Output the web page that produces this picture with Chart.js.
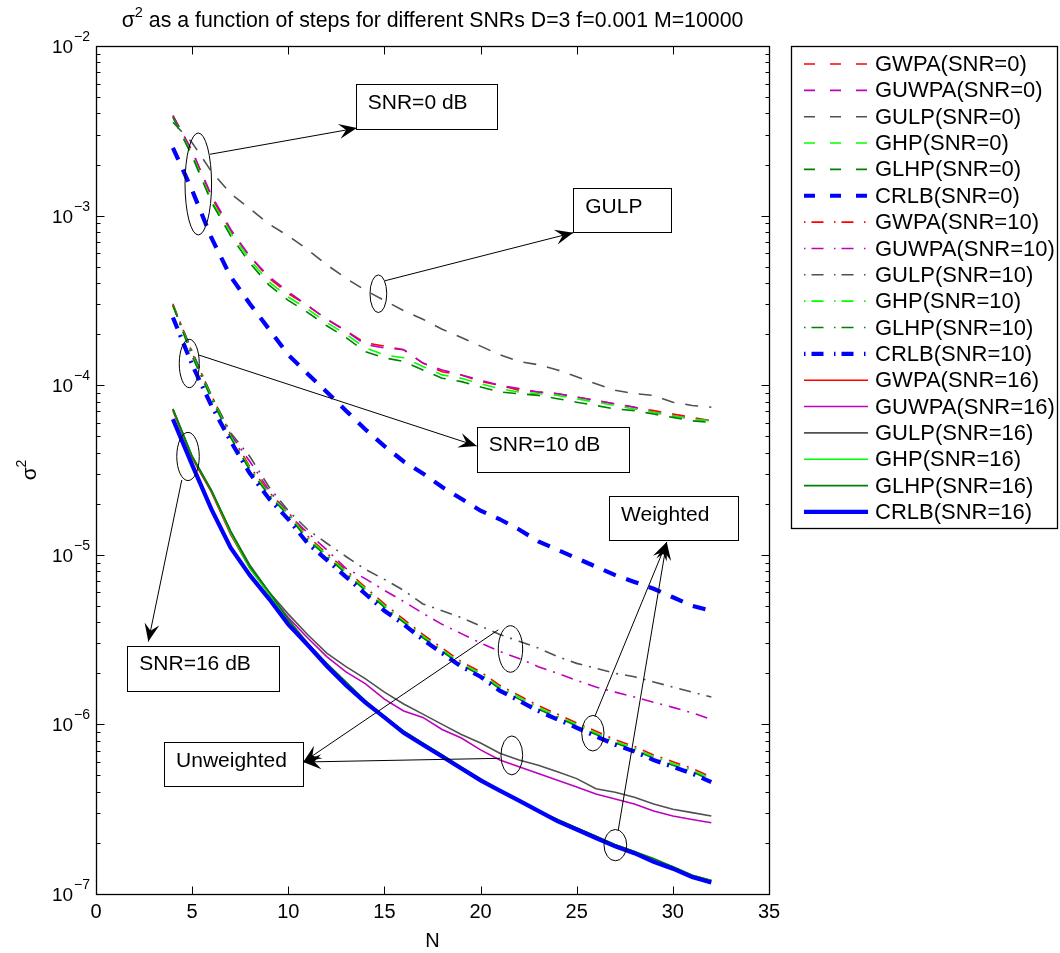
<!DOCTYPE html>
<html>
<head>
<meta charset="utf-8">
<script src="https://cdn.jsdelivr.net/npm/chart.js@4.4.1/dist/chart.umd.min.js"></script>
<style>
html,body{margin:0;padding:0;background:#ffffff;}
#wrap{width:1060px;height:953px;position:relative;}
</style>
</head>
<body>
<div id="wrap"><canvas id="c" width="1060" height="953"></canvas></div>
<script>
// ---------------- DATA ----------------
const steps = [4,5,6,7,8,9,10,11,12,13,14,15,16,17,18,19,20,21,22,23,24,25,26,27,28,29,30,31,32];

// SNR = 0 dB
const GWPA_0  = [3.89e-3,2.40e-3,1.29e-3,8.13e-4,5.75e-4,4.27e-4,3.47e-4,2.95e-4,2.45e-4,2.09e-4,1.78e-4,1.70e-4,1.62e-4,1.35e-4,1.20e-4,1.15e-4,1.05e-4,1.00e-4,9.33e-5,9.12e-5,8.91e-5,8.51e-5,8.13e-5,7.76e-5,7.41e-5,7.08e-5,6.76e-5,6.46e-5,6.17e-5];
const GUWPA_0 = [3.89e-3,2.40e-3,1.32e-3,8.32e-4,5.75e-4,4.37e-4,3.55e-4,2.95e-4,2.45e-4,2.09e-4,1.74e-4,1.66e-4,1.62e-4,1.35e-4,1.23e-4,1.15e-4,1.07e-4,1.00e-4,9.55e-5,9.12e-5,8.91e-5,8.51e-5,8.13e-5,7.76e-5,7.41e-5,6.92e-5,6.61e-5,6.31e-5,6.17e-5];
const GULP_0  = [3.55e-3,2.69e-3,1.82e-3,1.35e-3,1.10e-3,8.91e-4,7.59e-4,6.31e-4,5.13e-4,4.27e-4,3.63e-4,3.16e-4,2.75e-4,2.45e-4,2.14e-4,1.91e-4,1.70e-4,1.51e-4,1.38e-4,1.32e-4,1.23e-4,1.12e-4,1.02e-4,9.33e-5,8.91e-5,8.71e-5,7.94e-5,7.59e-5,7.41e-5];
const GHP_0   = [3.80e-3,2.29e-3,1.23e-3,7.94e-4,5.50e-4,4.07e-4,3.31e-4,2.82e-4,2.34e-4,2.00e-4,1.66e-4,1.51e-4,1.45e-4,1.29e-4,1.15e-4,1.10e-4,1.02e-4,9.55e-5,9.12e-5,8.91e-5,8.71e-5,8.32e-5,7.94e-5,7.59e-5,7.24e-5,6.92e-5,6.61e-5,6.31e-5,6.17e-5];
const GLHP_0  = [3.80e-3,2.24e-3,1.20e-3,7.59e-4,5.25e-4,3.89e-4,3.16e-4,2.69e-4,2.24e-4,1.91e-4,1.58e-4,1.45e-4,1.38e-4,1.23e-4,1.10e-4,1.05e-4,9.77e-5,9.12e-5,8.91e-5,8.71e-5,8.32e-5,7.94e-5,7.59e-5,7.24e-5,7.08e-5,6.76e-5,6.46e-5,6.17e-5,6.03e-5];
const CRLB_0  = [2.51e-3,1.41e-3,7.41e-4,4.37e-4,3.02e-4,2.14e-4,1.51e-4,1.17e-4,9.12e-5,7.08e-5,5.50e-5,4.37e-5,3.55e-5,3.02e-5,2.51e-5,2.14e-5,1.82e-5,1.62e-5,1.41e-5,1.20e-5,1.07e-5,9.55e-6,8.51e-6,7.59e-6,6.92e-6,6.31e-6,5.62e-6,5.01e-6,4.68e-6];

// SNR = 10 dB
const GWPA_10  = [3.02e-4,1.55e-4,8.71e-5,5.13e-5,3.31e-5,2.34e-5,1.78e-5,1.29e-5,1.02e-5,8.13e-6,6.46e-6,5.13e-6,4.17e-6,3.39e-6,2.82e-6,2.34e-6,2.04e-6,1.70e-6,1.48e-6,1.29e-6,1.15e-6,1.02e-6,9.12e-7,8.13e-7,7.41e-7,6.61e-7,6.03e-7,5.50e-7,4.90e-7];
const GUWPA_10 = [2.95e-4,1.58e-4,8.51e-5,5.13e-5,3.55e-5,2.40e-5,1.74e-5,1.35e-5,1.07e-5,8.32e-6,7.24e-6,6.17e-6,5.31e-6,4.52e-6,3.89e-6,3.43e-6,3.02e-6,2.69e-6,2.45e-6,2.19e-6,2.00e-6,1.82e-6,1.66e-6,1.55e-6,1.45e-6,1.35e-6,1.26e-6,1.17e-6,1.07e-6];
const GULP_10  = [2.95e-4,1.58e-4,8.71e-5,5.25e-5,3.80e-5,2.51e-5,1.82e-5,1.41e-5,1.17e-5,9.77e-6,8.22e-6,7.16e-6,6.17e-6,5.13e-6,4.68e-6,4.27e-6,3.80e-6,3.39e-6,3.09e-6,2.82e-6,2.51e-6,2.29e-6,2.14e-6,2.00e-6,1.91e-6,1.78e-6,1.66e-6,1.55e-6,1.45e-6];
const GHP_10   = [2.95e-4,1.51e-4,8.51e-5,5.01e-5,3.24e-5,2.29e-5,1.74e-5,1.26e-5,1.00e-5,7.94e-6,6.31e-6,5.01e-6,4.07e-6,3.31e-6,2.75e-6,2.29e-6,2.00e-6,1.66e-6,1.45e-6,1.26e-6,1.12e-6,1.00e-6,8.91e-7,7.94e-7,7.24e-7,6.46e-7,5.89e-7,5.37e-7,4.79e-7];
const GLHP_10  = [2.95e-4,1.48e-4,8.32e-5,4.90e-5,3.16e-5,2.24e-5,1.70e-5,1.23e-5,9.77e-6,7.76e-6,6.17e-6,4.90e-6,4.00e-6,3.24e-6,2.69e-6,2.24e-6,1.95e-6,1.62e-6,1.41e-6,1.23e-6,1.10e-6,9.77e-7,8.71e-7,7.76e-7,7.08e-7,6.31e-7,5.75e-7,5.25e-7,4.68e-7];
const CRLB_10  = [2.51e-4,1.32e-4,7.59e-5,4.68e-5,3.02e-5,2.14e-5,1.62e-5,1.17e-5,9.33e-6,7.41e-6,5.89e-6,4.68e-6,3.89e-6,3.16e-6,2.63e-6,2.19e-6,1.91e-6,1.58e-6,1.38e-6,1.20e-6,1.07e-6,9.55e-7,8.51e-7,7.59e-7,6.92e-7,6.17e-7,5.62e-7,5.13e-7,4.57e-7];

// SNR = 16 dB
const GWPA_16  = [7.08e-5,3.72e-5,2.34e-5,1.32e-5,8.32e-6,5.89e-6,4.07e-6,2.95e-6,2.26e-6,1.74e-6,1.38e-6,1.10e-6,9.12e-7,7.76e-7,6.61e-7,5.50e-7,4.68e-7,4.07e-7,3.55e-7,3.09e-7,2.75e-7,2.45e-7,2.19e-7,1.95e-7,1.78e-7,1.58e-7,1.45e-7,1.29e-7,1.20e-7];
const GUWPA_16 = [7.24e-5,3.80e-5,2.40e-5,1.35e-5,8.51e-6,5.89e-6,4.27e-6,3.24e-6,2.51e-6,2.04e-6,1.74e-6,1.41e-6,1.20e-6,1.10e-6,9.33e-7,8.32e-7,7.08e-7,6.17e-7,5.62e-7,5.13e-7,4.68e-7,4.27e-7,3.89e-7,3.63e-7,3.39e-7,3.09e-7,2.88e-7,2.75e-7,2.63e-7];
const GULP_16  = [7.24e-5,3.80e-5,2.40e-5,1.38e-5,8.71e-6,6.03e-6,4.47e-6,3.39e-6,2.63e-6,2.19e-6,1.86e-6,1.55e-6,1.32e-6,1.15e-6,1.00e-6,8.71e-7,7.76e-7,6.76e-7,6.17e-7,5.75e-7,5.25e-7,4.79e-7,4.17e-7,3.98e-7,3.72e-7,3.39e-7,3.16e-7,3.02e-7,2.88e-7];
const GHP_16   = [7.24e-5,3.80e-5,2.40e-5,1.35e-5,8.32e-6,5.89e-6,4.07e-6,2.95e-6,2.26e-6,1.74e-6,1.38e-6,1.10e-6,9.12e-7,7.76e-7,6.61e-7,5.50e-7,4.68e-7,4.07e-7,3.55e-7,3.09e-7,2.75e-7,2.45e-7,2.19e-7,1.95e-7,1.78e-7,1.58e-7,1.45e-7,1.29e-7,1.20e-7];
const GLHP_16  = [7.24e-5,3.80e-5,2.40e-5,1.38e-5,8.51e-6,6.03e-6,4.17e-6,3.02e-6,2.29e-6,1.78e-6,1.38e-6,1.12e-6,9.12e-7,7.76e-7,6.61e-7,5.62e-7,4.79e-7,4.07e-7,3.55e-7,3.09e-7,2.75e-7,2.45e-7,2.19e-7,1.95e-7,1.78e-7,1.62e-7,1.45e-7,1.29e-7,1.20e-7];
const CRLB_16  = [6.31e-5,3.39e-5,1.86e-5,1.10e-5,7.59e-6,5.50e-6,3.89e-6,2.95e-6,2.21e-6,1.70e-6,1.35e-6,1.10e-6,8.91e-7,7.59e-7,6.46e-7,5.50e-7,4.68e-7,4.07e-7,3.55e-7,3.09e-7,2.69e-7,2.40e-7,2.14e-7,1.91e-7,1.74e-7,1.55e-7,1.41e-7,1.26e-7,1.17e-7];

// axis ticks
const xTicks = [0,5,10,15,20,25,30,35];
const yDecades = [-7,-6,-5,-4,-3,-2];

// annotations (in data coordinates)
const annEllipses = [
  {n1:4.63, n2:6.01,  v1:3.07e-3, v2:7.69e-4},
  {n1:14.25,n2:15.12, v1:4.47e-4, v2:2.68e-4},
  {n1:4.33, n2:5.37,  v1:1.865e-4,v2:9.67e-5},
  {n1:4.20, n2:5.37,  v1:5.27e-5, v2:2.74e-5},
  {n1:20.92,n2:22.19, v1:3.82e-6, v2:2.03e-6},
  {n1:21.06,n2:22.19, v1:8.55e-7, v2:5.04e-7},
  {n1:25.26,n2:26.42, v1:1.13e-6, v2:6.97e-7},
  {n1:26.42,n2:27.60, v1:2.40e-7, v2:1.57e-7}
];
const annBoxes = [
  {text:'SNR=0 dB',   n1:13.51,n2:20.85,v1:5.94e-3,v2:3.24e-3},
  {text:'GULP',       n1:24.82,n2:29.94,v1:1.45e-3,v2:7.93e-4},
  {text:'SNR=10 dB',  n1:19.80,n2:27.68,v1:5.69e-5,v2:3.09e-5},
  {text:'SNR=16 dB',  n1:1.63, n2:9.52, v1:2.90e-6,v2:1.57e-6},
  {text:'Unweighted', n1:3.54, n2:10.78,v1:7.83e-7,v2:4.29e-7},
  {text:'Weighted',   n1:26.68,n2:33.40,v1:2.22e-5,v2:1.22e-5}
];
const annArrows = [
  {n1:5.93, v1:2.30e-3, n2:13.57,v2:3.28e-3},
  {n1:15.03,v1:4.13e-4, n2:24.82,v2:7.93e-4},
  {n1:5.32, v1:1.51e-4, n2:19.80,v2:4.38e-5},
  {n1:4.46, v1:2.76e-5, n2:2.72, v2:3.08e-6},
  {n1:20.92,v1:3.61e-6, n2:10.78,v2:6.00e-7},
  {n1:21.01,v1:6.31e-7, n2:10.78,v2:6.00e-7},
  {n1:25.95,v1:1.12e-6, n2:29.68,v2:1.19e-5},
  {n1:27.16,v1:2.38e-7, n2:29.68,v2:1.19e-5}
];

// ---------------- STYLE ----------------
const FONT = "'Liberation Sans', Arial, Helvetica, sans-serif";
const C_RED = '#FF0000', C_MAG = '#BF00BF', C_GRAY = '#505050', C_LGREEN = '#00FF00', C_DGREEN = '#008000', C_BLUE = '#0000FF';
const DASH = [13,11], DASHDOT = [12,7,2,7];
const L_DASH = [11,15], L_DASHDOT = [1.5,6,12,10.5];

function mk(label, values, color, width, dash, legendDash){
  return {
    label: label,
    data: steps.map((n,i)=>({x:n, y:values[i]})),
    borderColor: color, backgroundColor: color,
    borderWidth: width, borderDash: dash, legendDash: legendDash,
    pointRadius: 0, pointHoverRadius: 0, tension: 0, fill: false
  };
}
const TW = 1.6, BW = 4.2;
const datasets = [
  mk('GWPA(SNR=0)',   GWPA_0,   C_RED,   TW, DASH, L_DASH),
  mk('GUWPA(SNR=0)',  GUWPA_0,  C_MAG,   TW, DASH, L_DASH),
  mk('GULP(SNR=0)',   GULP_0,   C_GRAY,  TW, DASH, L_DASH),
  mk('GHP(SNR=0)',    GHP_0,    C_LGREEN,TW, DASH, L_DASH),
  mk('GLHP(SNR=0)',   GLHP_0,   C_DGREEN,TW, DASH, L_DASH),
  mk('CRLB(SNR=0)',   CRLB_0,   C_BLUE,  BW, DASH, L_DASH),
  mk('GWPA(SNR=10)',  GWPA_10,  C_RED,   TW, DASHDOT, L_DASHDOT),
  mk('GUWPA(SNR=10)', GUWPA_10, C_MAG,   TW, DASHDOT, L_DASHDOT),
  mk('GULP(SNR=10)',  GULP_10,  C_GRAY,  TW, DASHDOT, L_DASHDOT),
  mk('GHP(SNR=10)',   GHP_10,   C_LGREEN,TW, DASHDOT, L_DASHDOT),
  mk('GLHP(SNR=10)',  GLHP_10,  C_DGREEN,TW, DASHDOT, L_DASHDOT),
  mk('CRLB(SNR=10)',  CRLB_10,  C_BLUE,  BW, DASHDOT, L_DASHDOT),
  mk('GWPA(SNR=16)',  GWPA_16,  C_RED,   TW, [], []),
  mk('GUWPA(SNR=16)', GUWPA_16, C_MAG,   TW, [], []),
  mk('GULP(SNR=16)',  GULP_16,  C_GRAY,  TW, [], []),
  mk('GHP(SNR=16)',   GHP_16,   C_LGREEN,TW, [], []),
  mk('GLHP(SNR=16)',  GLHP_16,  C_DGREEN,TW, [], []),
  mk('CRLB(SNR=16)',  CRLB_16,  C_BLUE,  BW, [], [])
];
// later series drawn on top (as in the original)
datasets.forEach((d,i)=>{ d.order = -i; });

const SUP = {'-':'\u2212','0':'0','1':'1','2':'2','3':'3','4':'4','5':'5','6':'6','7':'7','8':'8','9':'9'};

function drawArrowHead(ctx, x1, y1, x2, y2){
  const a = Math.atan2(y2-y1, x2-x1);
  const len = 18, hw = 7.5, notch = 11;
  const ca = Math.cos(a), sa = Math.sin(a);
  const bx = x2 - len*ca, by = y2 - len*sa;
  const nx = x2 - notch*ca, ny = y2 - notch*sa;
  ctx.beginPath();
  ctx.moveTo(x2, y2);
  ctx.lineTo(bx - hw*sa, by + hw*ca);
  ctx.lineTo(nx, ny);
  ctx.lineTo(bx + hw*sa, by - hw*ca);
  ctx.closePath();
  ctx.fill();
}

const matlabPlugin = {
  id: 'matlabLook',
  afterDatasetsDraw(chart){
    const ctx = chart.ctx, xs = chart.scales.x, ys = chart.scales.y;
    ctx.save();
    ctx.strokeStyle = '#000'; ctx.fillStyle = '#000'; ctx.lineWidth = 1; ctx.setLineDash([]);
    annEllipses.forEach(e=>{
      const x1 = xs.getPixelForValue(e.n1), x2 = xs.getPixelForValue(e.n2);
      const y1 = ys.getPixelForValue(e.v1), y2 = ys.getPixelForValue(e.v2);
      ctx.beginPath();
      ctx.ellipse((x1+x2)/2, (y1+y2)/2, Math.abs(x2-x1)/2, Math.abs(y2-y1)/2, 0, 0, Math.PI*2);
      ctx.stroke();
    });
    annArrows.forEach(a=>{
      const x1 = xs.getPixelForValue(a.n1), x2 = xs.getPixelForValue(a.n2);
      const y1 = ys.getPixelForValue(a.v1), y2 = ys.getPixelForValue(a.v2);
      ctx.beginPath(); ctx.moveTo(x1,y1); ctx.lineTo(x2,y2); ctx.stroke();
      drawArrowHead(ctx, x1, y1, x2, y2);
    });
    ctx.font = '21px ' + FONT; ctx.textBaseline = 'alphabetic'; ctx.textAlign = 'left';
    annBoxes.forEach(b=>{
      const x1 = xs.getPixelForValue(b.n1), x2 = xs.getPixelForValue(b.n2);
      const y1 = ys.getPixelForValue(b.v1), y2 = ys.getPixelForValue(b.v2);
      ctx.strokeRect(Math.round(x1)+0.5, Math.round(y1)+0.5, Math.round(x2-x1), Math.round(y2-y1));
      ctx.fillText(b.text, x1 + 12, y1 + 24.5);
    });
    ctx.restore();
  },
  afterDraw(chart){
    const ctx = chart.ctx, xs = chart.scales.x, ys = chart.scales.y, ca = chart.chartArea;
    ctx.save();
    ctx.setLineDash([]);
    ctx.strokeStyle = '#000'; ctx.lineWidth = 1;
    const L = Math.round(ca.left)+0.5, R = Math.round(ca.right)+0.5, T = Math.round(ca.top)+0.5, B = Math.round(ca.bottom)+0.5;
    ctx.beginPath();
    xTicks.forEach(v=>{
      const x = Math.round(xs.getPixelForValue(v))+0.5;
      ctx.moveTo(x, B); ctx.lineTo(x, B-8);
      ctx.moveTo(x, T); ctx.lineTo(x, T+8);
    });
    yDecades.forEach(d=>{
      const y = Math.round(ys.getPixelForValue(Math.pow(10,d)))+0.5;
      ctx.moveTo(L, y); ctx.lineTo(L+8, y);
      ctx.moveTo(R, y); ctx.lineTo(R-8, y);
      if (d < -2) {
        for (let m=2; m<=9; m++){
          const ym = Math.round(ys.getPixelForValue(m*Math.pow(10,d)))+0.5;
          ctx.moveTo(L, ym); ctx.lineTo(L+4, ym);
          ctx.moveTo(R, ym); ctx.lineTo(R-4, ym);
        }
      }
    });
    ctx.stroke();
    ctx.lineWidth = 1.3;
    ctx.strokeRect(L, T, R-L, B-T);

    ctx.fillStyle = '#000';
    yDecades.forEach(d=>{
      const y = ys.getPixelForValue(Math.pow(10,d));
      const ex = String(d).split('').map(c=>SUP[c]).join('');
      ctx.font = '14px ' + FONT; ctx.textAlign = 'right'; ctx.textBaseline = 'alphabetic';
      const ew = ctx.measureText(ex).width;
      ctx.fillText(ex, 90, y - 5);
      ctx.font = '19px ' + FONT;
      ctx.fillText('10', 90 - ew - 1, y + 7);
    });
    ctx.font = '20px ' + FONT; ctx.textAlign = 'center'; ctx.textBaseline = 'alphabetic';
    ctx.fillText('N', (ca.left+ca.right)/2, 947);
    ctx.save();
    ctx.translate(36, (ca.top+ca.bottom)/2);
    ctx.rotate(-Math.PI/2);
    ctx.textAlign = 'left';
    ctx.font = '21px ' + FONT;
    const sw = ctx.measureText('\u03C3').width;
    ctx.font = '14px ' + FONT;
    const tw = sw + ctx.measureText('2').width;
    ctx.font = '21px ' + FONT;
    ctx.fillText('\u03C3', -tw/2, 0);
    ctx.font = '14px ' + FONT;
    ctx.fillText('2', -tw/2 + sw, -10);
    ctx.restore();
    // title with superscript
    const t1 = '\u03C3', t2 = '2', t3 = ' as a function of steps for different SNRs D=3 f=0.001 M=10000';
    ctx.textAlign = 'left';
    ctx.font = '21.3px ' + FONT; const w1 = ctx.measureText(t1).width, w3 = ctx.measureText(t3).width;
    ctx.font = '14.5px ' + FONT; const w2 = ctx.measureText(t2).width;
    let x0 = (ca.left+ca.right)/2 - (w1+w2+w3)/2;
    const by = 27;
    ctx.font = '21.3px ' + FONT; ctx.fillText(t1, x0, by);
    ctx.font = '14.5px ' + FONT; ctx.fillText(t2, x0 + w1, by - 10);
    ctx.font = '21.3px ' + FONT; ctx.fillText(t3, x0 + w1 + w2, by);

    // legend
    ctx.lineWidth = 1.3; ctx.strokeStyle = '#000';
    ctx.strokeRect(791.5, 46.5, 266, 482);
    chart.data.datasets.forEach((ds,i)=>{
      const y = 64 + i*26.35;
      ctx.strokeStyle = ds.borderColor; ctx.lineWidth = ds.borderWidth;
      ctx.setLineDash(ds.legendDash || []);
      ctx.beginPath(); ctx.moveTo(804, y); ctx.lineTo(868, y); ctx.stroke();
      ctx.setLineDash([]);
      ctx.fillStyle = '#000'; ctx.font = '22px ' + FONT; ctx.textAlign = 'left'; ctx.textBaseline = 'middle';
      ctx.fillText(ds.label, 875, y + 1);
    });
    ctx.restore();
  }
};

new Chart(document.getElementById('c'), {
  type: 'line',
  data: { datasets: datasets },
  options: {
    responsive: false,
    animation: false,
    devicePixelRatio: 1,
    events: [],
    layout: { padding: { left: 0, top: 46, right: 291, bottom: 0 } },
    plugins: { legend: { display: false }, tooltip: { enabled: false }, title: { display: false } },
    scales: {
      x: {
        type: 'linear', min: 0, max: 35,
        afterBuildTicks: (s)=>{ s.ticks = xTicks.map(v=>({value:v})); },
        ticks: { color: '#000', font: { family: FONT, size: 20 }, padding: 6, maxRotation: 0, autoSkip: false },
        grid: { display: false, drawTicks: false },
        border: { display: false },
        afterFit: (s)=>{ s.height = 59; }
      },
      y: {
        type: 'logarithmic', min: 1e-7, max: 1e-2,
        afterBuildTicks: (s)=>{ s.ticks = yDecades.map(d=>({value:Math.pow(10,d)})); },
        ticks: { display: false },
        grid: { display: false, drawTicks: false },
        border: { display: false },
        afterFit: (s)=>{ s.width = 96; }
      }
    }
  },
  plugins: [matlabPlugin]
});
</script>
</body>
</html>
